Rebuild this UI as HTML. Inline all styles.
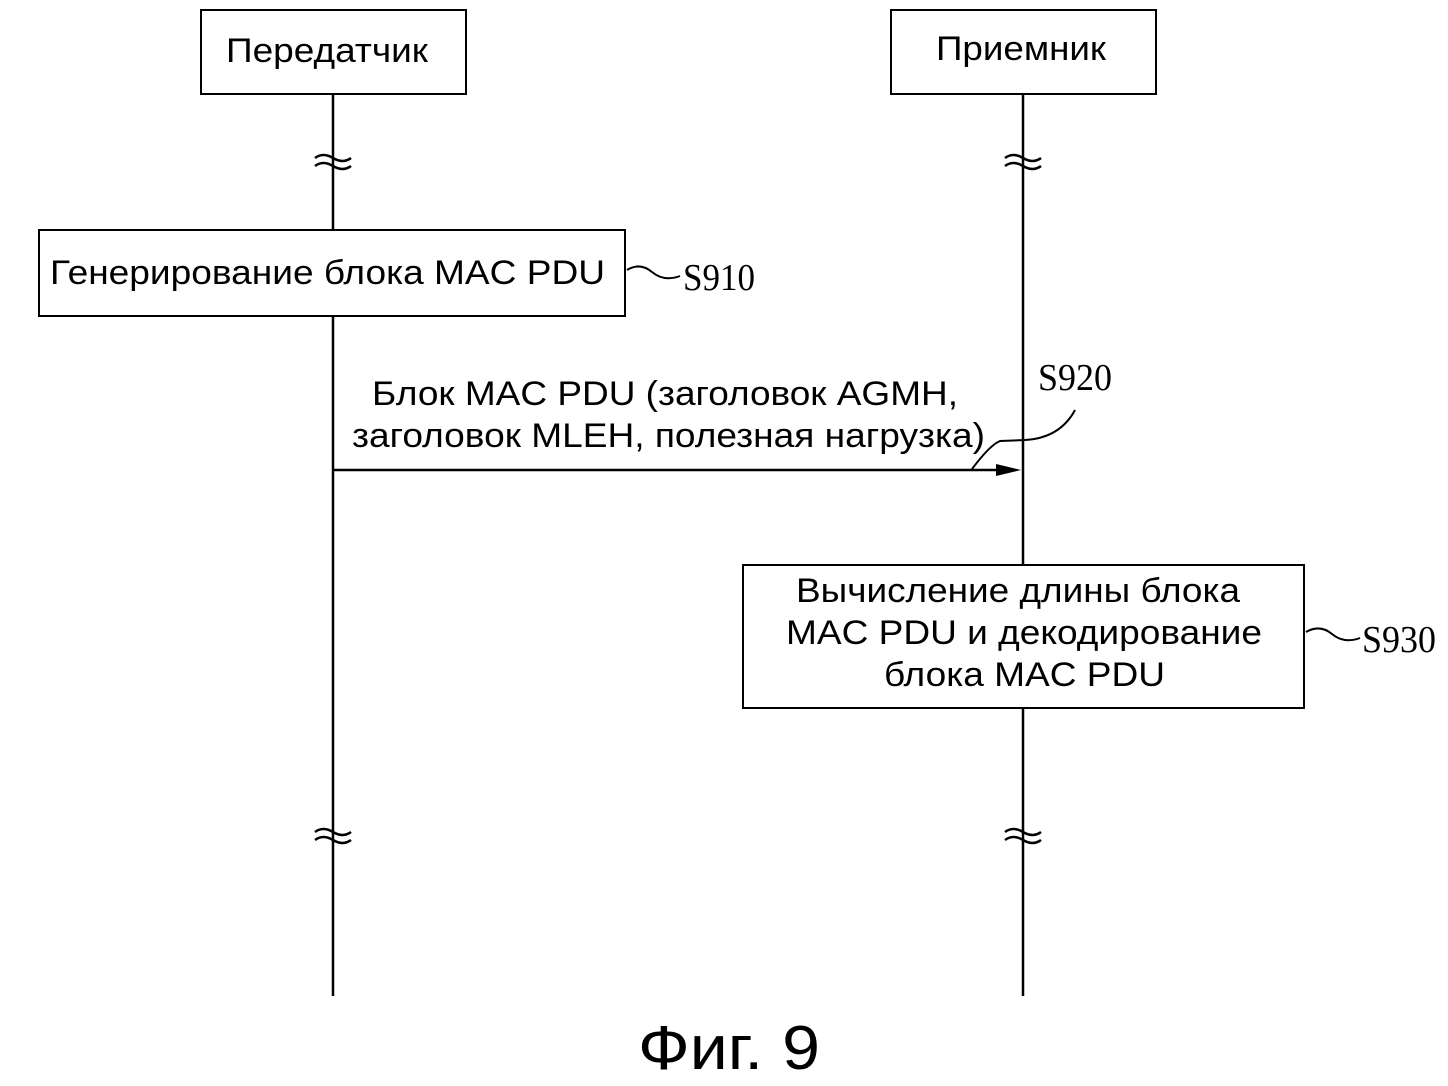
<!DOCTYPE html>
<html><head><meta charset="utf-8"><style>body{margin:0;background:#fff}</style></head><body>
<svg width="1448" height="1081" xmlns="http://www.w3.org/2000/svg" font-family="Liberation Sans, sans-serif">
<g stroke="#000" stroke-width="2.5" fill="none">
<line x1="333" y1="94" x2="333" y2="996"/>
<line x1="1023" y1="94" x2="1023" y2="996"/>
</g>
<g stroke="#000" stroke-width="2" fill="#fff">
<rect x="201" y="10" width="265" height="84"/>
<rect x="891" y="10" width="265" height="84"/>
<rect x="39" y="230" width="586" height="86"/>
<rect x="743" y="565" width="561" height="143"/>
</g>
<g stroke="#000" stroke-width="2.5" fill="none">
<path d="M315 158 q8 -6 18 0 t18 0"/><path d="M315 166 q8 -6 18 0 t18 0"/>
<path d="M1005 158 q8 -6 18 0 t18 0"/><path d="M1005 166 q8 -6 18 0 t18 0"/>
<path d="M315 832 q8 -6 18 0 t18 0"/><path d="M315 840 q8 -6 18 0 t18 0"/>
<path d="M1005 832 q8 -6 18 0 t18 0"/><path d="M1005 840 q8 -6 18 0 t18 0"/>
<line x1="333" y1="470" x2="1000" y2="470"/>
<path d="M972 469 Q990 445 1000 441 L1025 440 Q1060 438 1075 410" stroke-width="2"/>
<path d="M627 270 Q640 262 652 272 T680 276" stroke-width="2"/>
<path d="M1306 632 Q1320 624 1332 634 T1360 638" stroke-width="2"/>
</g>
<polygon points="996,464 1021,470 996,476" fill="#000"/>
<g font-size="34" fill="#000">
<text x="226" y="62" textLength="202" lengthAdjust="spacingAndGlyphs">Передатчик</text>
<text x="936" y="60" textLength="170" lengthAdjust="spacingAndGlyphs">Приемник</text>
<text x="50" y="284" textLength="555" lengthAdjust="spacingAndGlyphs">Генерирование блока MAC PDU</text>
<text x="372" y="405" textLength="586" lengthAdjust="spacingAndGlyphs">Блок MAC PDU (заголовок AGMH,</text>
<text x="352" y="447" textLength="633" lengthAdjust="spacingAndGlyphs">заголовок MLEH, полезная нагрузка)</text>
<text x="796" y="602" textLength="444" lengthAdjust="spacingAndGlyphs">Вычисление длины блока</text>
<text x="786" y="644" textLength="476" lengthAdjust="spacingAndGlyphs">MAC PDU и декодирование</text>
<text x="884" y="686" textLength="281" lengthAdjust="spacingAndGlyphs">блока MAC PDU</text>
<text x="638" y="1069" font-size="62" textLength="182" lengthAdjust="spacingAndGlyphs">Фиг. 9</text>
</g>
<g font-family="Liberation Serif, serif" font-size="38" fill="#000">
<text x="683" y="290" textLength="72" lengthAdjust="spacingAndGlyphs">S910</text>
<text x="1038" y="390" textLength="74" lengthAdjust="spacingAndGlyphs">S920</text>
<text x="1362" y="652" textLength="74" lengthAdjust="spacingAndGlyphs">S930</text>
</g>
</svg>
</body></html>
